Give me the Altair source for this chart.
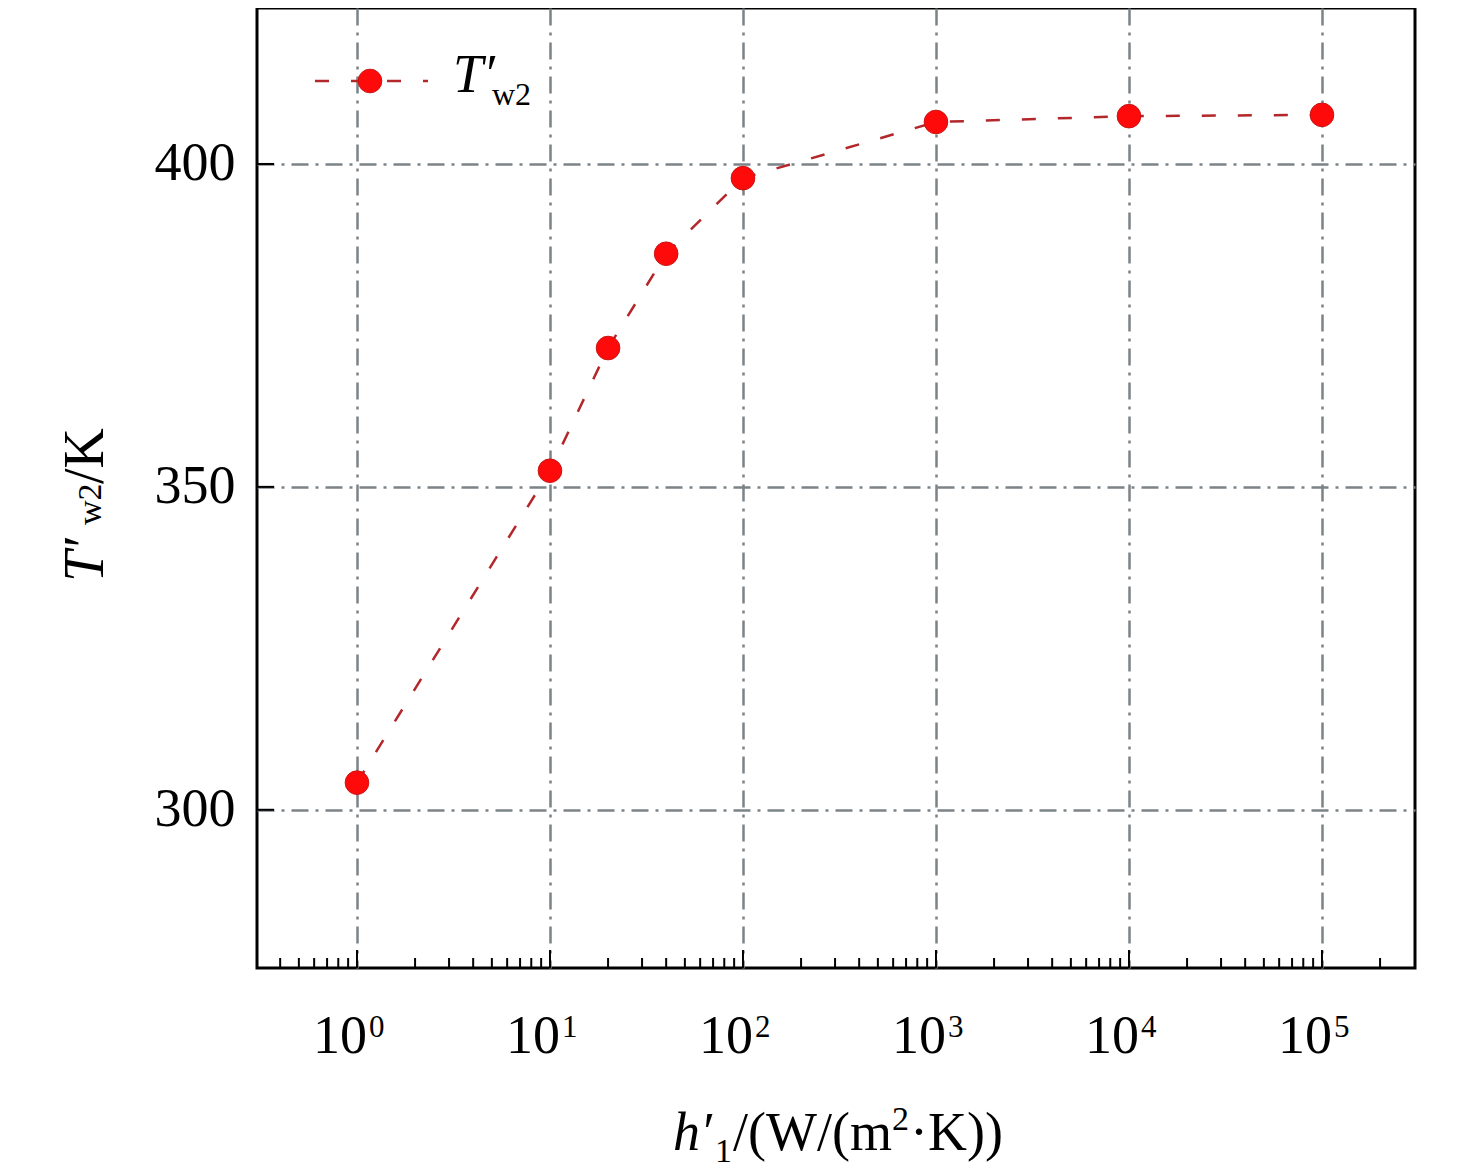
import altair as alt
import pandas as pd

# ---- data ----
h_values = [1, 10, 20, 40, 100, 1000, 10000, 100000]
t_values = [304.2, 352.5, 371.5, 386.1, 397.8, 406.5, 407.4, 407.6]

x_major = [1, 10, 100, 1000, 10000, 100000]
x_base = ["10", "10", "10", "10", "10", "10"]
x_exponents = ["0", "1", "2", "3", "4", "5"]
x_minor = [m * 10 ** k for k in range(-1, 6) for m in range(2, 10)
           if 0.35 < m * 10 ** k < 2.5e5]
y_major = [300, 350, 400]

# ---- layout ----
W, H = 1158, 960
FONT = "Liberation Serif"
XDOM = [0.3034, 303400]
YDOM = [275.5, 424.15]
GRID_DASH = [17, 7, 3, 7]
GRID_COLOR = "#7b8387"

xs = alt.Scale(type="log", domain=XDOM, nice=False)
ys = alt.Scale(domain=YDOM, nice=False, zero=False)

df = pd.DataFrame({"h": h_values, "T": t_values})
xmaj_df = pd.DataFrame({"v": x_major, "b": x_base, "e": x_exponents})
xmin_df = pd.DataFrame({"v": x_minor})
ymaj_df = pd.DataFrame({"v": y_major})
one = pd.DataFrame({"a": [0]})

x_axis = alt.Axis(values=x_major, labels=False, ticks=False, domain=False,
                  grid=True, gridDash=GRID_DASH, gridColor=GRID_COLOR,
                  gridWidth=2.5, title=None)
y_axis = alt.Axis(values=y_major, labelFont=FONT, labelFontSize=54,
                  labelColor="black", labelPadding=22, ticks=False, tickSize=0,
                  domain=False, grid=True, gridDash=GRID_DASH,
                  gridColor=GRID_COLOR, gridWidth=2.5, title=None)


def X(field):
    return alt.X(field, scale=xs, axis=x_axis)


def Y(field):
    return alt.Y(field, scale=ys, axis=y_axis)


line = alt.Chart(df).mark_line(color="#b3262a", strokeWidth=2.5,
                               strokeDash=[14, 22]).encode(
    x=X("h:Q"), y=Y("T:Q"))
points = alt.Chart(df).mark_circle(size=560, color="#ff0a0a", opacity=1,
                                   stroke="#c81414", strokeWidth=1).encode(
    x=X("h:Q"), y=Y("T:Q"))

xticks = alt.Chart(xmaj_df).mark_rule(color="black", strokeWidth=2).encode(
    x=X("v:Q"), y=alt.value(H), y2=alt.value(H - 18))
xminor = alt.Chart(xmin_df).mark_rule(color="black", strokeWidth=2).encode(
    x=X("v:Q"), y=alt.value(H), y2=alt.value(H - 10))
yticks = alt.Chart(ymaj_df).mark_rule(color="black", strokeWidth=2).encode(
    y=Y("v:Q"), x=alt.value(0), x2=alt.value(17))

xlab_base = alt.Chart(xmaj_df).mark_text(
    font=FONT, fontSize=54, align="right", baseline="alphabetic", dx=10,
    color="black").encode(x=X("v:Q"), y=alt.value(1045), text="b:N")
xlab_exp = alt.Chart(xmaj_df).mark_text(
    font=FONT, fontSize=31, align="left", baseline="alphabetic", dx=12,
    color="black").encode(x=X("v:Q"), y=alt.value(1029), text="e:N")


def txt(s, x, y, size=54, italic=False, angle=0):
    return alt.Chart(one).mark_text(
        text=s, font=FONT, fontSize=size,
        fontStyle="italic" if italic else "normal",
        align="left", baseline="alphabetic", angle=angle, color="black",
    ).encode(x=alt.value(x), y=alt.value(y))


# legend
leg_line = alt.Chart(one).mark_rule(color="#b3262a", strokeWidth=2.5,
                                    strokeDash=[14, 22]).encode(
    x=alt.value(58), x2=alt.value(171), y=alt.value(73))
leg_pt = alt.Chart(one).mark_circle(size=560, color="#ff0a0a", opacity=1,
                                    stroke="#c81414", strokeWidth=1).encode(
    x=alt.value(113), y=alt.value(73))
leg_t1 = txt("T′", 196, 84, italic=True)
leg_t2 = txt("w2", 235, 97, size=32)

# x title: h'_1/(W/(m^2·K))
xt = [
    txt("h′", 416, 1142, italic=True),
    txt("1", 458, 1154, size=34),
    txt("/(W/(m", 476, 1142),
    txt("2", 635, 1122, size=34),
    txt("·K))", 653, 1142),
]
# y title: T'_w2/K (rotated)
yt = [
    txt("T′", -154, 574, size=56, italic=True, angle=270),
    txt("w2", -156, 517, size=34, angle=270),
    txt("/K", -154, 476, size=56, angle=270),
]

chart = alt.layer(
    line, points, xticks, xminor, yticks, xlab_base, xlab_exp,
    leg_line, leg_pt, leg_t1, leg_t2, *xt, *yt,
).properties(
    width=W, height=H,
    autosize=alt.AutoSizeParams(type="none"),
    padding={"left": 249, "top": 0, "right": 53, "bottom": 200},
).configure_view(stroke="black", strokeWidth=3)

chart.save("out.html", embed_options={"renderer": "svg", "actions": False})
